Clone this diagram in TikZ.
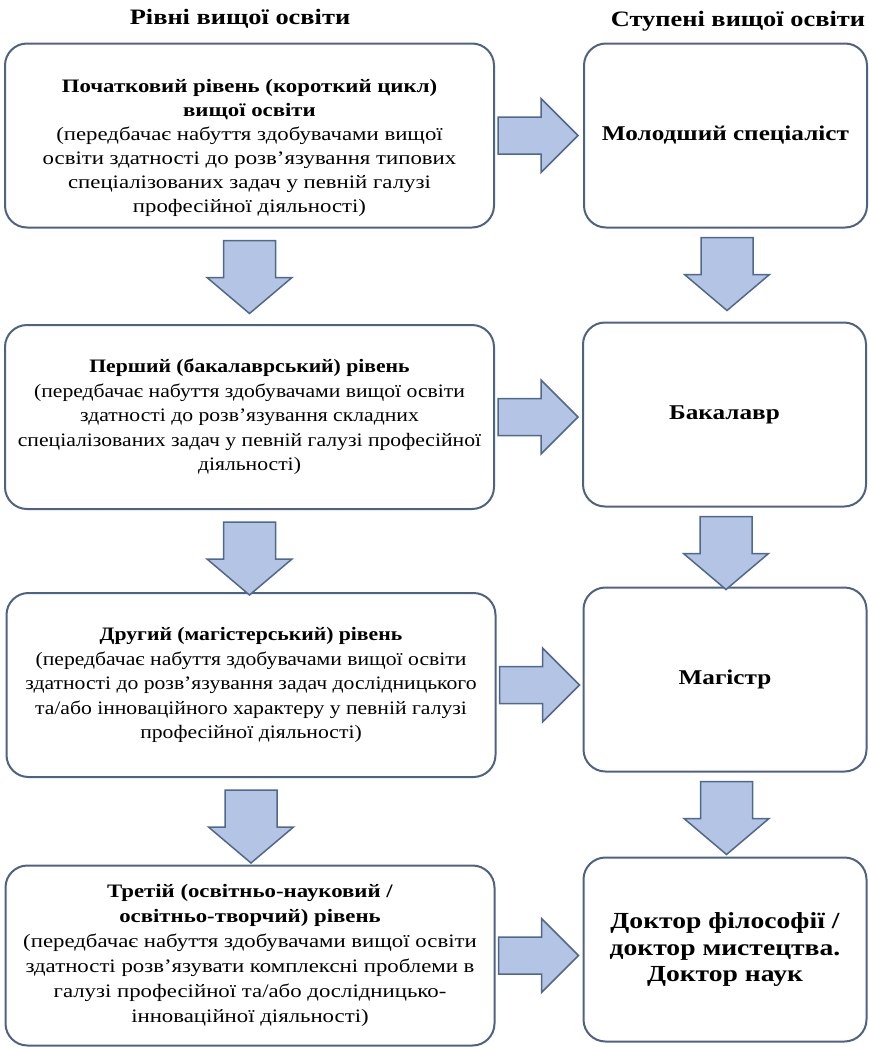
\documentclass[tikz,border=0pt]{standalone}
\usepackage{fontspec}
\setmainfont{Liberation Serif}[FakeStretch=1.2]
\newfontfamily\tightserif{Liberation Serif}[FakeStretch=1.14]
\usepackage{tikz}
\usetikzlibrary{calc}
\definecolor{boxline}{RGB}{78,98,130}
\definecolor{arrfill}{RGB}{180,196,228}
\definecolor{arrline}{RGB}{80,104,140}
\begin{document}
\begin{tikzpicture}[x=1pt,y=-1pt,
    lbox/.style={draw=boxline, line width=2pt, rounded corners=22pt, fill=white,
      minimum width=489pt, minimum height=184pt, align=center, inner sep=4pt,
      font=\fontsize{19}{24}\selectfont},
    rbox/.style={lbox, minimum width=283pt, font=\fontsize{21}{26}\selectfont\bfseries},
    head/.style={font=\fontsize{22}{25}\selectfont\bfseries},
    arr/.style={draw=arrline, fill=arrfill, line width=1.5pt, line join=miter},
    rarrow/.pic={\draw[arr] (0,-18.5) -- (43,-18.5) -- (43,-37) -- (80,0) -- (43,37) -- (43,18.5) -- (0,18.5) -- cycle;},
    darrow/.pic={\draw[arr] (-26,0) -- (26,0) -- (26,37) -- (42.5,37) -- (0,73) -- (-42.5,37) -- (-26,37) -- cycle;}]
      \useasboundingbox (0,0) rectangle (868,1047);
      \node (h1) at (240,19) [head] {Рівні вищої освіти};
      \node (h2) at (738,21) [head] {Ступені вищої освіти};
      \node (L1) at (249.5,135.5) [lbox] {\rule{0pt}{38pt}\textbf{Початковий рівень (короткий цикл)}\\ \textbf{вищої освіти}\\
        (передбачає набуття здобувачами вищої\\ освіти здатності до розв’язування типових\\
        спеціалізованих задач у певній галузі\\ професійної діяльності)};
      \node (L2) at (249.5,417) [lbox, font=\fontsize{19}{24.5}\tightserif] {\textbf{Перший (бакалаврський) рівень}\\
        (передбачає набуття здобувачами вищої освіти\\ здатності до розв’язування складних\\
        спеціалізованих задач у певній галузі професійної\\ діяльності)};
      \node (L3) at (251,685) [lbox, font=\fontsize{19}{24.5}\tightserif] {\textbf{Другий (магістерський) рівень}\\
        (передбачає набуття здобувачами вищої освіти\\ здатності до розв’язування задач дослідницького\\
        та/або інноваційного характеру у певній галузі\\ професійної діяльності)};
      \node (L4) at (250,955.5) [lbox, minimum height=180pt, font=\fontsize{19}{25}\selectfont] {\textbf{Третій (освітньо-науковий /}\\ \textbf{освітньо-творчий) рівень}\\
        (передбачає набуття здобувачами вищої освіти\\ здатності розв’язувати комплексні проблеми в\\
        галузі професійної та/або дослідницько-\\ інноваційної діяльності)};
      \node (R1) at (725.5,135.5) [rbox] {Молодший спеціаліст};
      \node (R2) at (724.5,414.5) [rbox] {Бакалавр};
      \node (R3) at (725,679.5) [rbox] {Магістр};
      \node (R4) at (725,949.5) [rbox, font=\fontsize{23}{26.5}\selectfont\bfseries] {Доктор філософії /\\ доктор мистецтва.\\ Доктор наук};
      \foreach \i in {1,2,3,4} {
        \pic at ($(L\i.east)+(3,0)$) {rarrow};
      }
      \foreach \i/\j in {1/2,2/3,3/4} {
        \pic at ($(L\i.south)+(0,12)$) {darrow};
        \pic at ($(R\i.south)+(1.5,9)$) {darrow};
      }
\end{tikzpicture}
\end{document}
